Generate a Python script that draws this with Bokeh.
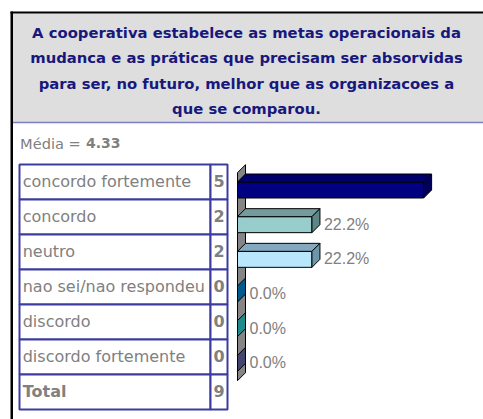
from bokeh.plotting import figure
from bokeh.models import Range1d
from bokeh.embed import file_html
from bokeh.resources import INLINE
from bokeh.core.properties import value

# ---------------- data ----------------
title_lines = [
    "A cooperativa estabelece as metas operacionais da",
    "mudanca e as práticas que precisam ser absorvidas",
    "para ser, no futuro, melhor que as organizacoes a",
    "que se comparou.",
]
mean_label = "Média = "
mean_value = "4.33"
categories = [
    "concordo fortemente",
    "concordo",
    "neutro",
    "nao sei/nao respondeu",
    "discordo",
    "discordo fortemente",
]
counts = [5, 2, 2, 0, 0, 0]
total_label = "Total"
show_pct_label = [False, True, True, True, True, True]

# ---------------- styles ----------------
front_colors = ["#000080", "#99CCCC", "#B8E6FA", "#006699", "#209090", "#4A4A7A"]
top_colors = ["#00006C", "#749C9C", "#84A8BE", "#005580", "#1A7878", "#3E3E68"]
side_colors = ["#00005A", "#5F8686", "#6E96AA", "#005A8C", "#1E8A8A", "#444470"]
GRAY_TEXT = "#808080"
TITLE_COLOR = "#18187C"
TABLE_LINE = "#3C3CA0"

W, H = 483, 419
# chart geometry (pixels inside the figure)
X0 = 237.0          # pixel of 0 %
PX_PER_PCT = 3.35   # pixels per percent
C0 = 189.5          # pixel of first category centre (front face)
SLOT = 34.67        # pixels per category
BAR_PX = 16.0
DEPTH = 8.0
# table geometry
ROW0 = 164.0
ROW_PX = 35.0

total = sum(counts)
pct = [c / total * 100 for c in counts]
n = len(categories)

p = figure(width=W, height=H, x_range=Range1d(0, W), y_range=Range1d(H, 0),
           output_backend="svg", toolbar_location=None,
           x_axis_location=None, y_axis_location=None, min_border=0,
           outline_line_color=None)
p.grid.grid_line_color = None
p.background_fill_color = "white"
p.border_fill_color = "white"

p.extra_x_ranges = {"pct": Range1d(start=-X0 / PX_PER_PCT, end=(W - X0) / PX_PER_PCT)}
p.extra_y_ranges = {
    "cat": Range1d(start=(H - C0) / SLOT, end=-C0 / SLOT),
    "row": Range1d(start=(H - ROW0) / ROW_PX, end=-ROW0 / ROW_PX),
}

# ---------- frame and title box ----------
p.quad(left=[12.5], right=[W + 20], top=[13], bottom=[122], fill_color="#DEDEDE", line_color=None)
p.quad(left=[12.5], right=[W + 20], top=[121.2], bottom=[122.8], fill_color="#7C7CC4", line_color=None)
p.quad(left=[10], right=[12.5], top=[11], bottom=[H + 20], fill_color="black", line_color=None)
p.quad(left=[10], right=[W + 20], top=[11], bottom=[13], fill_color="black", line_color=None)

p.text(x=[246] * len(title_lines), y=[32.0, 57.3, 82.6, 107.6], text=title_lines,
       text_font=value("DejaVu Sans"), text_font_size="14.8px", text_font_style="bold",
       text_color=TITLE_COLOR, text_align="center", text_baseline="middle")

p.text(x=[19.6], y=[142.5], text=[mean_label], text_font=value("DejaVu Sans"),
       text_font_size="14.6px", text_color=GRAY_TEXT, text_baseline="middle")
p.text(x=[85.5], y=[142.5], text=[mean_value], text_font=value("DejaVu Sans"),
       text_font_size="14px", text_font_style="bold", text_color=GRAY_TEXT,
       text_baseline="middle")

# ---------- table ----------
rows_text = categories + [total_label]
rows_num = [str(c) for c in counts] + [str(total)]
nr = len(rows_text)
ridx = list(range(nr))
TL, TS, TR = 19.0, 210.0, 227.0
p.quad(left=[TL] * nr, right=[TS] * nr, top=ridx, bottom=[r + 1 for r in ridx],
       fill_color="white", line_color=TABLE_LINE, line_width=2, y_range_name="row")
p.quad(left=[TS] * nr, right=[TR] * nr, top=ridx, bottom=[r + 1 for r in ridx],
       fill_color="white", line_color=TABLE_LINE, line_width=2, y_range_name="row")
mid = 0.5
p.text(x=[22.2] * (nr - 1), y=[r + mid for r in ridx[:-1]], text=rows_text[:-1],
       text_font=value("DejaVu Sans"), text_font_size="16px", text_color=GRAY_TEXT,
       text_baseline="middle", y_offset=-1, y_range_name="row")
p.text(x=[22.2], y=[nr - 1 + mid], text=[rows_text[-1]],
       text_font=value("DejaVu Sans"), text_font_size="16px", text_font_style="bold",
       text_color=GRAY_TEXT, text_baseline="middle", y_offset=-1, y_range_name="row")
p.text(x=[(TS + TR) / 2] * nr, y=[r + mid for r in ridx], text=rows_num,
       text_font=value("DejaVu Sans"), text_font_size="16px", text_font_style="bold",
       text_color=GRAY_TEXT, text_align="center", text_baseline="middle",
       y_offset=-1, y_range_name="row")

# ---------- 3D bar chart ----------
dx = DEPTH / PX_PER_PCT
dy = DEPTH / SLOT
hh = BAR_PX / SLOT / 2

# side wall
p.patch(x=[0, dx, dx, 0], y=[-0.5, -0.5 - dy, n - 0.5 - dy, n - 0.5],
        fill_color="#858585", line_color="black", line_width=1,
        x_range_name="pct", y_range_name="cat")

cats = list(range(n))
top_xs = [[0, v, v + dx, dx] for v in pct]
top_ys = [[c - hh, c - hh, c - hh - dy, c - hh - dy] for c in cats]
side_xs = [[v, v + dx, v + dx, v] for v in pct]
side_ys = [[c - hh, c - hh - dy, c + hh - dy, c + hh] for c in cats]

nz = [i for i in cats if pct[i] > 0]
p.quad(left=[0] * len(nz), right=[pct[i] for i in nz], top=[i - hh for i in nz],
       bottom=[i + hh for i in nz], fill_color=[front_colors[i] for i in nz],
       line_color="black", line_width=1, x_range_name="pct", y_range_name="cat")
p.patches(xs=[top_xs[i] for i in nz], ys=[top_ys[i] for i in nz],
          fill_color=[top_colors[i] for i in nz], line_color="black", line_width=1,
          x_range_name="pct", y_range_name="cat")
p.patches(xs=side_xs, ys=side_ys, fill_color=side_colors, line_color="black",
          line_width=1, x_range_name="pct", y_range_name="cat")

lab_idx = [i for i in cats if show_pct_label[i]]
p.text(x=[pct[i] + dx for i in lab_idx], y=[i for i in lab_idx],
       text=["%.1f%%" % pct[i] for i in lab_idx],
       text_font=value("Liberation Sans"), text_font_size="16px", text_color=GRAY_TEXT,
       text_baseline="middle", x_offset=4, y_offset=-0.5,
       x_range_name="pct", y_range_name="cat")

open("out.html", "w").write(file_html(p, INLINE))
